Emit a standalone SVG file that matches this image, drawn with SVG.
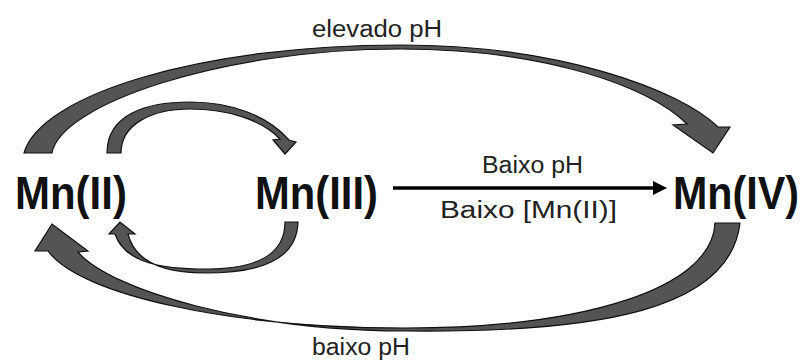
<svg xmlns="http://www.w3.org/2000/svg" width="810" height="361" viewBox="0 0 810 361">
  <style>
    .species { font-family: "Liberation Sans", Arial, sans-serif; font-weight: bold; font-size: 46px; fill: #111; }
    .cond { font-family: "Liberation Sans", Arial, sans-serif; font-size: 23px; fill: #222; }
    .curved { fill: #545454; stroke: #111; stroke-width: 1.2; stroke-linejoin: miter; }
    .straight { stroke: #000; stroke-width: 3.5; fill: none; }
  </style>
  <rect width="810" height="361" fill="#fff"/>

  <!-- connectors -->
  <g id="connectors">
    <!-- Mn(II) to Mn(IV), over the top -->
    <path class="curved" d="M 24,153 C 40,95 200,45 400,45 C 560,45 680,90 718,127 L 730,127 L 713,153 L 673,125 L 687,124 C 650,88 550,49 400,49 C 220,49 60,105 52,153 Z"/>
    <!-- Mn(II) to Mn(III), small upper loop -->
    <path class="curved" d="M 107,153 C 107,115 145,102 190,102 C 232,102 268,116 289,140 L 296,142 L 285,154 L 273,140 L 280,139 C 262,120 228,109 190,109 C 152,109 121,124 121,153 Z"/>
    <!-- Mn(III) to Mn(II), small lower loop -->
    <path class="curved" d="M 298,222 C 297,260 260,273 205,273 C 165,273 135,262 128,234 L 135,234 L 120,222 L 109,234 L 115,234 C 125,264 165,269 205,269 C 255,269 285,256 285,222 Z"/>
    <!-- Mn(IV) to Mn(II), under the bottom -->
    <path class="curved" d="M 740,223 C 730,310 600,333 405,331 C 250,331 110,290 78,252 L 88,251 L 52,224 L 35,251 L 48,251 C 80,295 230,328 405,328 C 580,328 712,290 715,223 Z"/>
    <!-- Mn(III) to Mn(IV), straight -->
    <line class="straight" x1="393" y1="188" x2="656" y2="188"/>
    <polygon points="653,181 667,188 653,195" fill="#000"/>
  </g>

  <!-- condition labels -->
  <g id="labels">
    <text class="cond" x="312" y="37" textLength="130" lengthAdjust="spacingAndGlyphs">elevado pH</text>
    <text class="cond" x="482" y="173" textLength="101" lengthAdjust="spacingAndGlyphs">Baixo pH</text>
    <text class="cond" x="440" y="218" textLength="177" lengthAdjust="spacingAndGlyphs">Baixo [Mn(II)]</text>
    <text class="cond" x="312" y="355" textLength="98" lengthAdjust="spacingAndGlyphs">baixo pH</text>
  </g>

  <!-- species, horizontally condensed -->
  <g id="mn2">
    <text class="species" transform="translate(15,209) scale(0.913,1)">Mn(II)</text>
  </g>
  <g id="mn3">
    <text class="species" transform="translate(255,209) scale(0.908,1)">Mn(III)</text>
  </g>
  <g id="mn4">
    <text class="species" transform="translate(673,209) scale(0.897,1)">Mn(IV)</text>
  </g>
</svg>
